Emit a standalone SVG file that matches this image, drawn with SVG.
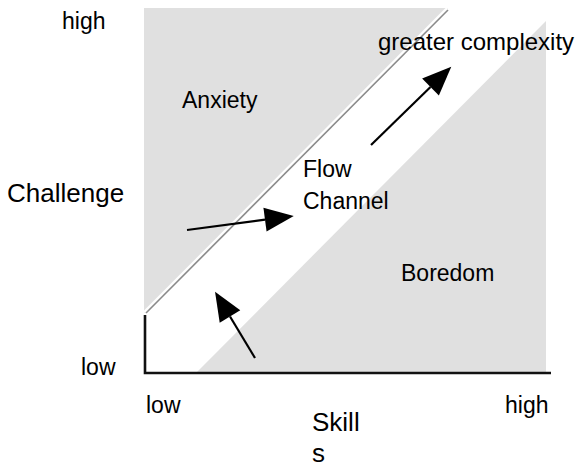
<svg xmlns="http://www.w3.org/2000/svg" width="578" height="468" viewBox="0 0 578 468">
<style>
.zone{fill:#e0e0e0;stroke:none}
.lbl{font-family:"Liberation Sans",Arial,sans-serif;font-size:23px;fill:#000}
.big{font-size:26px}
.arr{stroke:#000;stroke-width:2.2;fill:none;marker-end:url(#head)}
.axis{stroke:#111;stroke-width:2.6;fill:none}
</style>
<defs>
<marker id="head" markerUnits="userSpaceOnUse" markerWidth="32" markerHeight="24" refX="0" refY="12" orient="auto" overflow="visible">
<path d="M0,0 L29,12 L0,24 Z" fill="#000"/>
</marker>
</defs>
<rect width="578" height="468" fill="#fff"/>
<g id="anxiety-zone">
<polygon class="zone" points="144,8 448,8 144,313"/>
</g>
<g id="boredom-zone">
<polygon class="zone" points="546,21 546,372 197,372"/>
</g>
<g id="flow-edge">
<line x1="144" y1="312" x2="447" y2="8" stroke="#fff" stroke-width="2"/>
<line x1="146" y1="313" x2="448" y2="10" stroke="#8a8a8a" stroke-width="1.6"/>
</g>
<g id="axes">
<polyline class="axis" points="145,315 145,373 551,373"/>
</g>
<g id="connectors">
<line class="arr" x1="187" y1="230" x2="265" y2="219.7"/>
<line class="arr" x1="255" y1="358" x2="230" y2="316.5"/>
<line class="arr" x1="371" y1="145" x2="430.5" y2="87"/>
</g>
<g id="labels">
<text class="lbl" x="62" y="29">high</text>
<text class="lbl" x="81" y="375">low</text>
<text class="lbl big" x="7" y="202">Challenge</text>
<text class="lbl" x="146" y="413">low</text>
<text class="lbl" x="505" y="413">high</text>
<text class="lbl big" x="312" y="431">Skill</text>
<text class="lbl big" x="312" y="462">s</text>
</g>
<g id="node-anxiety"><text class="lbl" x="182" y="108">Anxiety</text></g>
<g id="node-flow"><text class="lbl" x="303" y="177">Flow</text><text class="lbl" x="303" y="209">Channel</text></g>
<g id="node-boredom"><text class="lbl" x="401" y="281">Boredom</text></g>
<g id="node-complexity"><text class="lbl" x="378" y="50" style="font-size:24px">greater complexity</text></g>
</svg>
